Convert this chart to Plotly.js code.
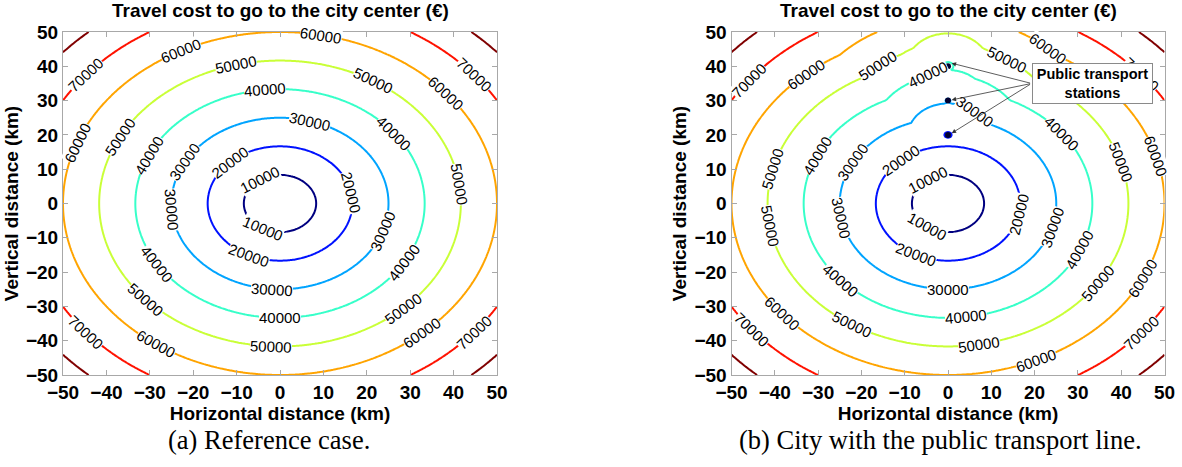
<!DOCTYPE html>
<html><head><meta charset="utf-8">
<script src="https://cdn.plot.ly/plotly-3.0.1.min.js"></script>
<style>html,body{margin:0;padding:0;background:#fff}#chart{width:1182px;height:467px}</style>
</head><body><div id="chart"></div>
<script>
// ---- values ----
const CONTOUR_LEVELS = [10000, 20000, 30000, 40000, 50000, 60000, 70000, 80000];
const LEVEL_COLORS = ['#000080', '#0012FF', '#00A4FF', '#37FFC9', '#C9FF37', '#FFA400', '#FF1200', '#800000'];
const AXIS_TICKS = [-50, -40, -30, -20, -10, 0, 10, 20, 30, 40, 50];
const COST_PER_KM = 1200;              // € per km to the centre (10000 ring at r≈8.3 km, 60000 at r≈50 km)
const STATION_X = [0, 0, 0];           // public transport stations (km)
const STATION_Y = [20, 30, 40];
const STATION_COST = [19000, 29300, 38500]; // cost from each station
// where each level's inline label sits: direction (degrees from the +x axis, seen from the centre)
const LABEL_DIRS_REF = [
  [123, 242],
  [134, 11, 245],
  [74, 151, 184, -19, 266],
  [96, 38, 155, 212, -31, 270],
  [104, 59, 152, 7.6, 222, -47, 267],
  [79, 117, 40, 159, 235, -49],
  [140, 40, 220, -40],
  []
];
const LABEL_DIRS_LINE = [
  [123, 235],
  [131, -11, 244],
  [77, 151, 190, -16, 270],
  [97, 38, 155, 222, -24, 277],
  [112, 72, 166, 189, 17, -34, 238, 280],
  [131, 63, 16, -26, 220, -66],
  [142, 40, 219, -40],
  []
];
const TITLE = 'Travel cost to go to the city center (€)';
const X_TITLE = 'Horizontal distance (km)';
const Y_TITLE = 'Vertical distance (km)';
const CAPTION_A = '(a) Reference case.';
const CAPTION_B = '(b) City with the public transport line.';
const STATIONS_LABEL = 'Public transport<br>stations';

// ---- sampling grid of the two cost fields ----
const GRID = [];
for (let v = -50; v <= 50.0001; v += 0.5) GRID.push(Math.round(v * 10) / 10);

function directCost(x, y) { return COST_PER_KM * Math.hypot(x, y); }
function transportCost(x, y) {
  let c = directCost(x, y);
  for (let s = 0; s < STATION_X.length; s++) {
    c = Math.min(c, STATION_COST[s] + COST_PER_KM * Math.hypot(x - STATION_X[s], y - STATION_Y[s]));
  }
  return c;
}
const zRef = GRID.map(y => GRID.map(x => directCost(x, y)));
const zLine = GRID.map(y => GRID.map(x => transportCost(x, y)));

const lo = CONTOUR_LEVELS[0], hi = CONTOUR_LEVELS[CONTOUR_LEVELS.length - 1];
const step = CONTOUR_LEVELS[1] - CONTOUR_LEVELS[0];
const colorscale = CONTOUR_LEVELS.map((v, i) => [(v - lo) / (hi - lo), LEVEL_COLORS[i]]);

const SANS = 'Liberation Sans, Arial, Helvetica, sans-serif';
const SERIF = 'Liberation Serif, Times New Roman, serif';

const W = 1182, H = 467;
const yDom = [1 - 375 / H, 1 - 32 / H];
const xDom1 = [63 / W, 497 / W];
const xDom2 = [731.5 / W, 1164.5 / W];
const SX = (xDom1[1] - xDom1[0]) * W / 100;   // px per km, horizontal
const SY = (yDom[1] - yDom[0]) * H / 100;     // px per km, vertical

function contourTrace(z, xa, ya) {
  return {
    type: 'contour', x: GRID, y: GRID, z: z, xaxis: xa, yaxis: ya,
    autocontour: false,
    contours: { start: lo, end: hi, size: step, coloring: 'lines', showlabels: false },
    line: { width: 2, smoothing: 1 },
    colorscale: colorscale, zauto: false, zmin: lo, zmax: hi, showscale: false, hoverinfo: 'skip'
  };
}

const traces = [
  contourTrace(zRef, 'x', 'y'),
  contourTrace(zLine, 'x2', 'y2'),
  { type: 'scatter', mode: 'markers', x: STATION_X, y: STATION_Y, xaxis: 'x2', yaxis: 'y2',
    marker: { symbol: 'circle', size: 6, color: '#000030' }, hoverinfo: 'skip', showlegend: false }
];

// ---- inline contour labels: placed on the level line in the given direction, aligned with the line ----
function levelPoint(field, level, deg) {
  const c = Math.cos(deg * Math.PI / 180), s = Math.sin(deg * Math.PI / 180);
  for (let r = 0.25; r < 75; r += 0.25) {
    if (field(r * c, r * s) >= level) {
      let a = r - 0.25, b = r;
      for (let k = 0; k < 40; k++) { const m = (a + b) / 2; if (field(m * c, m * s) >= level) b = m; else a = m; }
      return [b * c, b * s];
    }
  }
  return null;
}
function lineAngle(field, x, y) {
  const h = 0.01;
  const gx = (field(x + h, y) - field(x - h, y)) / (2 * h);
  const gy = (field(x, y + h) - field(x, y - h)) / (2 * h);
  let a = Math.atan2(-gx * SY, -gy * SX) * 180 / Math.PI;
  while (a > 90) a -= 180;
  while (a <= -90) a += 180;
  return a;
}
function labelAnnotations(field, dirs, xref, yref) {
  const out = [];
  dirs.forEach((list, i) => list.forEach(deg => {
    const p = levelPoint(field, CONTOUR_LEVELS[i], deg);
    if (!p || Math.abs(p[0]) > 50 || Math.abs(p[1]) > 50) return;
    out.push({
      xref: xref, yref: yref, x: p[0], y: p[1], text: String(CONTOUR_LEVELS[i]),
      textangle: lineAngle(field, p[0], p[1]), showarrow: false, xanchor: 'center', yanchor: 'middle',
      bgcolor: '#fff', borderpad: 0, borderwidth: 0, font: { family: SANS, size: 15, color: '#000' }
    });
  }));
  return out;
}

function axis(domain, anchor, isX) {
  return {
    domain: domain, anchor: anchor, range: [-50, 50], tickvals: AXIS_TICKS,
    showgrid: false, zeroline: false, showline: true, linecolor: '#A8A8A8', linewidth: 1,
    mirror: 'ticks', ticks: 'inside', ticklen: 5, tickcolor: '#A8A8A8', tickwidth: 1,
    tickfont: { family: SANS, size: 19, color: '#000', weight: 'bold' },
    title: { text: isX ? X_TITLE : Y_TITLE, font: { family: SANS, size: 19, color: '#000', weight: 'bold' },
      standoff: isX ? 0 : 2 },
    fixedrange: true
  };
}

const annotations = [].concat(
  labelAnnotations(directCost, LABEL_DIRS_REF, 'x', 'y'),
  labelAnnotations(transportCost, LABEL_DIRS_LINE, 'x2', 'y2')
);
annotations.push(
  { text: '<b>' + TITLE + '</b>', xref: 'paper', yref: 'paper', x: (xDom1[0] + xDom1[1]) / 2, y: 1 - 11 / H,
    xanchor: 'center', yanchor: 'middle', showarrow: false, font: { family: SANS, size: 19, color: '#000' } },
  { text: '<b>' + TITLE + '</b>', xref: 'paper', yref: 'paper', x: (xDom2[0] + xDom2[1]) / 2, y: 1 - 11 / H,
    xanchor: 'center', yanchor: 'middle', showarrow: false, font: { family: SANS, size: 19, color: '#000' } },
  { text: CAPTION_A, xref: 'paper', yref: 'paper', x: 269 / W, y: 1 - 440 / H,
    xanchor: 'center', yanchor: 'middle', showarrow: false, font: { family: SERIF, size: 26.5, color: '#000' } },
  { text: CAPTION_B, xref: 'paper', yref: 'paper', x: 940 / W, y: 1 - 440 / H,
    xanchor: 'center', yanchor: 'middle', showarrow: false, font: { family: SERIF, size: 26.5, color: '#000' } }
);
const ARROW_TAIL = [19.3, 35.0];
const ARROW_HEAD_X = 0.85;
const ARROW_HEAD_Y = [40.9, 30.2, 20.5];
ARROW_HEAD_Y.forEach(hy => annotations.push({
  xref: 'x2', yref: 'y2', axref: 'x2', ayref: 'y2', x: ARROW_HEAD_X, y: hy, ax: ARROW_TAIL[0], ay: ARROW_TAIL[1],
  text: '', showarrow: true, arrowhead: 2, arrowsize: 1.1, arrowwidth: 0.8, arrowcolor: '#333', standoff: 0
}));
annotations.push({
  text: '<b>' + STATIONS_LABEL + '</b>', xref: 'x2', yref: 'y2', x: 33.3, y: 35.0,
  xanchor: 'center', yanchor: 'middle', showarrow: false, bgcolor: '#fff', bordercolor: '#8a8a8a',
  borderwidth: 1, borderpad: 2, width: 115, height: 35, font: { family: SANS, size: 14.5, color: '#000' }
});

const layout = {
  width: W, height: H, margin: { l: 0, r: 0, t: 0, b: 0 },
  paper_bgcolor: '#fff', plot_bgcolor: '#fff', showlegend: false,
  xaxis: axis(xDom1, 'y', true), yaxis: axis(yDom, 'x', false),
  xaxis2: axis(xDom2, 'y2', true), yaxis2: axis(yDom, 'x2', false),
  annotations: annotations
};

Plotly.newPlot('chart', traces, layout, { staticPlot: true, displayModeBar: false });
</script>
</body></html>
